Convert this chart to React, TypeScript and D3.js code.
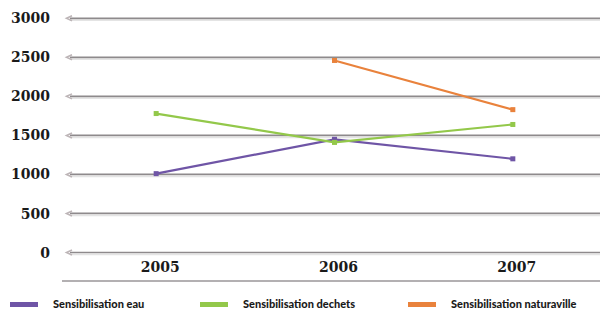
import { useEffect, useRef } from 'react';
import * as d3 from 'd3';

const years = ['2005', '2006', '2007'];
const yTicks = [0, 500, 1000, 1500, 2000, 2500, 3000];

const eau = [1010, 1450, 1200];
const dechets = [1780, 1410, 1640];
const naturaville = [null, 2460, 1830];

const seriesNames = ['Sensibilisation eau', 'Sensibilisation dechets', 'Sensibilisation naturaville'];
const seriesColors = ['#6f55a6', '#93c84a', '#e9823c'];

export default function App() {
  const svgRef = useRef<SVGSVGElement>(null);

  useEffect(() => {
    if (!svgRef.current) return;
    const svg = d3.select(svgRef.current);
    svg.selectAll('*').remove();

    const width = 600;
    const height = 314;

    svg.append('rect').attr('width', width).attr('height', height).attr('fill', '#ffffff');

    const x = d3.scaleBand().domain(years).range([67, 602]);
    const y = d3.scaleLinear().domain([0, 3000]).range([252.5, 18.3]);
    const cx = (d: string) => (x(d) || 0) + x.bandwidth() / 2;

    // Grid lines with a soft shadow
    const grid = svg.append('g');
    yTicks.forEach((t) => {
      const yy = y(t);
      grid.append('line')
        .attr('x1', 70).attr('x2', width)
        .attr('y1', yy + 2).attr('y2', yy + 2)
        .attr('stroke', '#e4e4e4').attr('stroke-width', 1.5);
      grid.append('line')
        .attr('x1', 70).attr('x2', width)
        .attr('y1', yy).attr('y2', yy)
        .attr('stroke', '#8e8a8c').attr('stroke-width', 1.7);
      grid.append('path')
        .attr('d', `M72,${yy - 2.5} L66.5,${yy} L72,${yy + 2.5}`)
        .attr('fill', 'none').attr('stroke', '#bdb5b7').attr('stroke-width', 1.6);
      svg.append('text')
        .attr('x', 50).attr('y', yy).attr('dy', '0.36em')
        .attr('text-anchor', 'end')
        .attr('font-family', 'DejaVu Serif').attr('font-weight', 'bold')
        .attr('font-size', 14).attr('fill', '#1a1a1a')
        .text(t);
    });

    // Bottom frame line
    svg.append('line')
      .attr('x1', 62).attr('x2', width).attr('y1', 281).attr('y2', 281)
      .attr('stroke', '#9a9698').attr('stroke-width', 1.4);

    // X labels
    years.forEach((yr) => {
      svg.append('text')
        .attr('x', cx(yr) + 4).attr('y', 267).attr('dy', '0.36em')
        .attr('text-anchor', 'middle')
        .attr('font-family', 'DejaVu Serif').attr('font-weight', 'bold')
        .attr('font-size', 14).attr('fill', '#1a1a1a')
        .text(yr);
    });

    // Lines
    const allSeries = [eau, dechets, naturaville];
    const line = d3.line<number | null>()
      .defined((d) => d !== null)
      .x((_d, i) => cx(years[i]))
      .y((d) => y(d as number));

    allSeries.forEach((s, si) => {
      svg.append('path')
        .attr('d', line(s) || '')
        .attr('fill', 'none')
        .attr('stroke', seriesColors[si])
        .attr('stroke-width', 2.2);
      s.forEach((v, i) => {
        if (v === null) return;
        svg.append('rect')
          .attr('x', cx(years[i]) - 2.5).attr('y', y(v) - 2.5)
          .attr('width', 5).attr('height', 5)
          .attr('fill', seriesColors[si]);
      });
    });

    // Legend
    const legendX = [10, 200, 408];
    seriesNames.forEach((name, i) => {
      svg.append('rect')
        .attr('x', legendX[i]).attr('y', 302)
        .attr('width', 28).attr('height', 5)
        .attr('fill', seriesColors[i]);
      svg.append('text')
        .attr('x', legendX[i] + 43).attr('y', 304.5).attr('dy', '0.36em')
        .attr('font-family', 'Lato').attr('font-weight', 900)
        .attr('font-size', 11).attr('fill', '#1a1a1a')
        .text(name);
    });
  }, []);

  return (
    <svg
      ref={svgRef}
      width={600}
      height={314}
      style={{ position: 'absolute', left: 0, top: 0, display: 'block' }}
    />
  );
}
